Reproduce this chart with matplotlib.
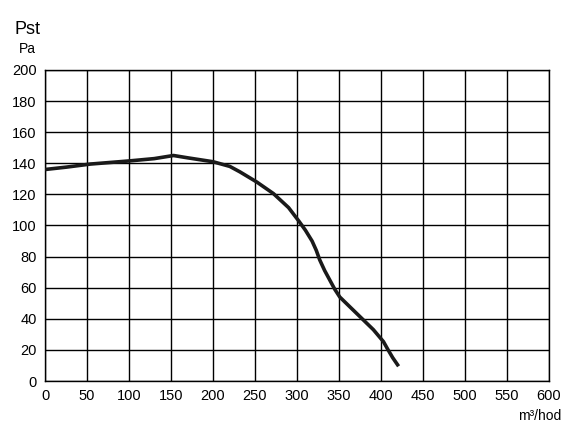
import matplotlib
matplotlib.use('Agg')
import matplotlib.pyplot as plt

plt.rcParams['font.family'] = ['Liberation Sans', 'DejaVu Sans']

# curve (m3/hod, Pa)
flow = [0, 25, 54, 100, 130, 153, 170, 200, 220, 232, 252, 272, 290, 302,
        310, 318, 323, 327, 333, 339, 345, 351, 371, 391, 403, 408, 414, 421]
pressure = [136, 137.5, 139.5, 141.5, 143, 145, 143.5, 141, 138, 134.5,
            128, 120.5, 111.5, 103, 97, 90, 84, 78, 71, 65, 59, 54, 43.5, 33,
            25.3, 20.5, 15, 9.5]

x_ticks = list(range(0, 601, 50))
y_ticks = list(range(0, 201, 20))

fig = plt.figure(figsize=(5.7, 4.4), dpi=100)
ax = fig.add_axes([0.079, 0.134, 0.884, 0.707])

ax.plot(flow, pressure, color='#1a1a1a', lw=2.6, solid_joinstyle='round',
        solid_capstyle='butt', zorder=3)

ax.set_xlim(0, 600)
ax.set_ylim(0, 200)
ax.set_xticks(x_ticks)
ax.set_yticks(y_ticks)
ax.grid(color='black', lw=1.0)
ax.tick_params(length=0, labelsize=10.5, pad=6)
for s in ax.spines.values():
    s.set_linewidth(1.0)

fig.text(0.048, 0.933, 'Pst', fontsize=13, ha='center', va='center')
fig.text(0.048, 0.889, 'Pa', fontsize=10, ha='center', va='center')
fig.text(0.985, 0.055, 'm³/hod', fontsize=10, ha='right', va='center')

fig.savefig('out.png', dpi=100)
